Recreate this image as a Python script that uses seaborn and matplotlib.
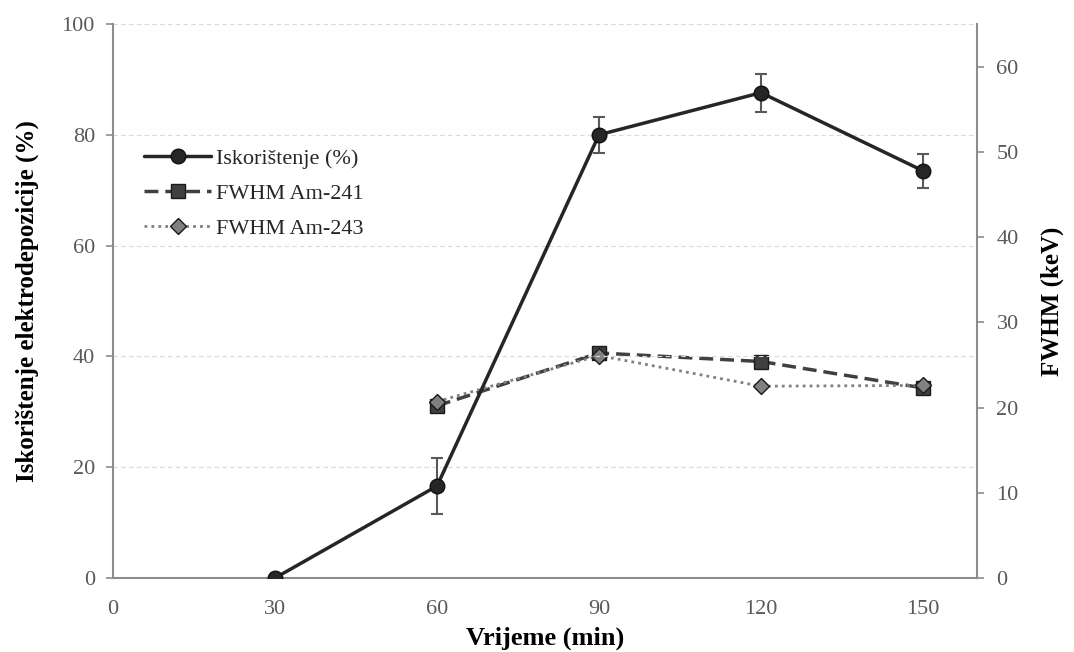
import numpy as np
import pandas as pd
import matplotlib
matplotlib.use('Agg')
import matplotlib.pyplot as plt
import seaborn as sns

# Data
vrijeme = [30, 60, 90, 120, 150]
iskoristenje = [0.0, 16.6, 80.0, 87.6, 73.5]
iskoristenje_err = [0.0, 5.1, 3.2, 3.4, 3.1]

vrijeme_fwhm = [60, 90, 120, 150]
fwhm_am241 = [20.2, 26.4, 25.4, 22.3]
fwhm_am243 = [20.7, 26.1, 22.5, 22.6]

x_ticks = [0, 30, 60, 90, 120, 150]
left_ticks = [0, 20, 40, 60, 80, 100]
right_ticks = [0, 10, 20, 30, 40, 50, 60]

sns.set_style('white')
plt.rcParams['font.family'] = ['Liberation Serif', 'DejaVu Serif']

df_isk = pd.DataFrame({'Vrijeme': vrijeme, 'Isk': iskoristenje, 'err': iskoristenje_err})
df_fwhm = pd.DataFrame({'Vrijeme': vrijeme_fwhm, 'Am241': fwhm_am241, 'Am243': fwhm_am243})

fig = plt.figure(figsize=(10.74, 6.52), dpi=100)
ax = fig.add_axes([0.1052, 0.1135, 0.8045, 0.8497])
ax2 = ax.twinx()

tick_grey = '#595959'
spine_grey = '#8c8c8c'

# FWHM series on the right axis
sns.lineplot(data=df_fwhm, x='Vrijeme', y='Am241', ax=ax2, color='#404040',
             linestyle=(0, (4, 2)), linewidth=2.5, marker='s', markersize=9.5,
             markerfacecolor='#404040', markeredgecolor='#1a1a1a', markeredgewidth=1,
             label='FWHM Am-241', legend=False, zorder=3)
sns.lineplot(data=df_fwhm, x='Vrijeme', y='Am243', ax=ax2, color='#808080',
             linestyle=(0, (1, 1.5)), linewidth=2, marker='D', markersize=8,
             markerfacecolor='#808080', markeredgecolor='#1a1a1a', markeredgewidth=1,
             label='FWHM Am-243', legend=False, zorder=4)

# Efficiency with error bars on the left axis
ax.errorbar(df_isk['Vrijeme'], df_isk['Isk'], yerr=df_isk['err'], fmt='none',
            ecolor='#595959', elinewidth=1.5, capsize=4.5, capthick=1.5, zorder=2)
sns.lineplot(data=df_isk, x='Vrijeme', y='Isk', ax=ax, color='#262626',
             linewidth=2.5, marker='o', markersize=10.5, markerfacecolor='#262626',
             markeredgecolor='#111111', markeredgewidth=1,
             label='Iskorištenje (%)', legend=False, zorder=5)

# Left axis on top so the solid line draws over the FWHM lines
ax.set_zorder(ax2.get_zorder() + 1)
ax.patch.set_visible(False)

ax.set_xlim(0, 160)
ax.set_ylim(0, 100)
ax2.set_ylim(0, 65)
ax.set_xticks(x_ticks)
ax.set_yticks(left_ticks)
ax2.set_yticks(right_ticks)

ax.yaxis.grid(True, linestyle=(0, (4, 3)), color='#d9d9d9', linewidth=0.8)
ax.set_axisbelow(True)

for a in (ax, ax2):
    a.spines['top'].set_visible(False)
    for s in ('left', 'right', 'bottom'):
        a.spines[s].set_color(spine_grey)
        a.spines[s].set_linewidth(1.5)
    a.tick_params(axis='both', direction='out', length=5, width=1.2,
                  color=spine_grey, labelcolor=tick_grey, labelsize=16)
ax.spines['right'].set_visible(False)
ax2.spines['left'].set_visible(False)
ax2.spines['bottom'].set_visible(False)
ax.tick_params(axis='x', pad=11)
ax.tick_params(axis='y', pad=8)
ax2.tick_params(axis='y', pad=9)

ax.set_xlabel('Vrijeme (min)', fontsize=19, fontweight='bold', color='black', labelpad=5)
ax.set_ylabel('Iskorištenje elektrodepozicije (%)', fontsize=18, fontweight='bold',
              color='black', labelpad=16)
ax2.set_ylabel('FWHM (keV)', fontsize=18, fontweight='bold', color='black', labelpad=16)

h1, l1 = ax.get_legend_handles_labels()
h2, l2 = ax2.get_legend_handles_labels()
ax.legend(h1 + h2, l1 + l2, loc='upper left', bbox_to_anchor=(0.013, 0.811),
          frameon=False, fontsize=16, handlelength=3.0, labelspacing=0.65,
          handletextpad=0.25)

fig.savefig('out.png', dpi=100)
